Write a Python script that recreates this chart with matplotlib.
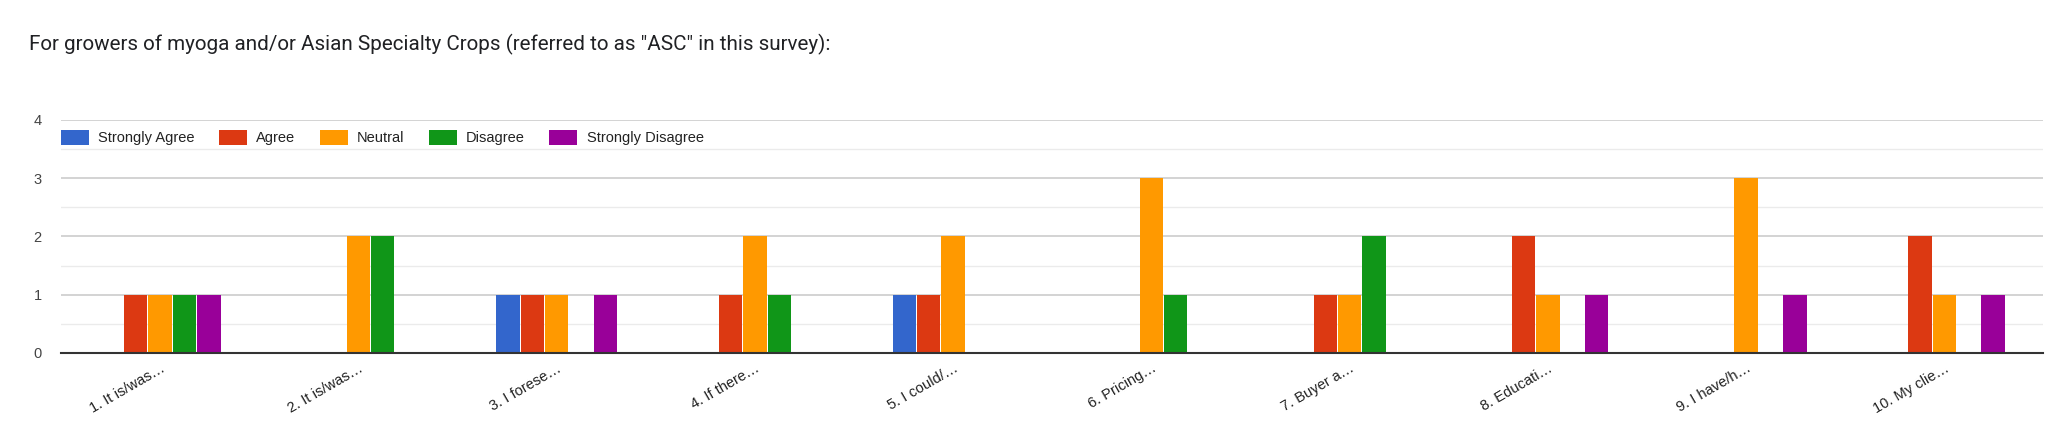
import matplotlib
matplotlib.use("Agg")
import matplotlib.pyplot as plt
import numpy as np

TITLE = 'For growers of myoga and/or Asian Specialty Crops (referred to as "ASC" in this survey):'
CATEGORIES = [
    "1. It is/was\u2026", "2. It is/was\u2026", "3. I forese\u2026", "4. If there\u2026",
    "5. I could/\u2026", "6. Pricing\u2026", "7. Buyer a\u2026", "8. Educati\u2026",
    "9. I have/h\u2026", "10. My clie\u2026",
]
SERIES = ["Strongly Agree", "Agree", "Neutral", "Disagree", "Strongly Disagree"]
COLORS = ["#3366cc", "#dc3912", "#ff9900", "#109618", "#990099"]

strongly_agree = [0, 0, 1, 0, 1, 0, 0, 0, 0, 0]
agree = [1, 0, 1, 1, 1, 0, 1, 2, 0, 2]
neutral = [1, 2, 1, 2, 2, 3, 1, 1, 3, 1]
disagree = [1, 2, 0, 1, 0, 1, 2, 0, 0, 0]
strongly_disagree = [1, 0, 1, 0, 0, 0, 0, 1, 1, 1]
VALUES = [strongly_agree, agree, neutral, disagree, strongly_disagree]

plt.rcParams["font.family"] = ["Liberation Sans", "DejaVu Sans"]

fig = plt.figure(figsize=(20.48, 4.44), dpi=100)
ax = fig.add_axes([0.0298, 0.205, 0.968, 0.525])

x = np.arange(len(CATEGORIES))
bar_w = 0.123
for i, (name, vals, col) in enumerate(zip(SERIES, VALUES, COLORS)):
    ax.bar(x + (i - 2) * bar_w, vals, width=bar_w * 0.96, color=col, label=name, zorder=3)

ax.set_xlim(-0.5, len(CATEGORIES) - 0.5)
ax.set_ylim(0, 4)
ax.set_yticks([0, 1, 2, 3, 4])
ax.set_yticks([0.5, 1.5, 2.5, 3.5], minor=True)
ax.grid(axis="y", which="major", color="#cccccc", linewidth=1.2, zorder=0)
ax.grid(axis="y", which="minor", color="#ebebeb", linewidth=1.0, zorder=0)
ax.tick_params(axis="y", which="both", length=0, labelsize=10.5, labelcolor="#444444", pad=14)
ax.tick_params(axis="x", length=0, labelsize=10.5, labelcolor="#222222", pad=6)
ax.set_xticks(x)
ax.set_xticklabels(CATEGORIES, rotation=30, ha="right", rotation_mode="anchor")
for s in ["top", "right", "left"]:
    ax.spines[s].set_visible(False)
ax.spines["bottom"].set_color("#333333")
ax.spines["bottom"].set_linewidth(1.5)
ax.spines["bottom"].set_zorder(4)

leg = ax.legend(loc="upper left", bbox_to_anchor=(-0.0045, 0.995), ncol=5, frameon=False,
                fontsize=10.5, handlelength=1.95, handleheight=1.2, handletextpad=0.62,
                columnspacing=1.65, borderaxespad=0.2)
for t in leg.get_texts():
    t.set_color("#222222")

fig.text(0.014, 0.9, TITLE, fontsize=14.9, color="#202124", family="Roboto", va="center")

fig.savefig("out.png", dpi=100, facecolor="white")
